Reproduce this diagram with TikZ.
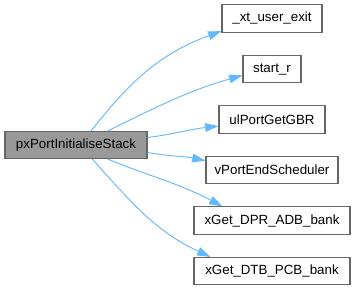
\documentclass[tikz,border=0pt]{standalone}
\usepackage{fontspec}
\setmainfont{Liberation Sans}
\usepackage{xcolor}
\usepackage{tikz}
\usetikzlibrary{arrows.meta, positioning}

\definecolor{edgeblue}{HTML}{63B8FF}
\definecolor{boxline}{HTML}{666666}
\definecolor{boxfill}{HTML}{999999}

\begin{document}
\begin{tikzpicture}[x=0.75pt, y=-0.75pt, node distance=37.9pt, font=\fontsize{10pt}{12pt}\selectfont]
    % Define styles
    \tikzstyle{func} = [rectangle, minimum height=20.5pt, inner xsep=5pt, text centered, draw=boxline, fill=white, line width=0.8pt]
    \tikzstyle{caller} = [func, fill=boxfill]
    \tikzstyle{call} = [draw=edgeblue, line width=0.7pt, -{Triangle[length=10pt, width=6.5pt, fill=edgeblue]}]

    \useasboundingbox (0,0) rectangle (355,291);

    % Nodes
    \node (init) [caller, minimum width=106.5pt] at (76,145) {pxPortInitialiseStack};
    \node (xtexit) [func, minimum width=75pt] at (272,18.5) {\_xt\_user\_exit};
    \node (startr) [func, minimum width=43.5pt, below of=xtexit] {start\_r};
    \node (getgbr) [func, minimum width=79.5pt, below of=startr] {ulPortGetGBR};
    \node (endsched) [func, minimum width=99pt, below of=getgbr] {vPortEndScheduler};
    \node (dprbank) [func, minimum width=117pt, below of=endsched] {xGet\_DPR\_ADB\_bank};
    \node (dtbbank) [func, minimum width=117pt, below of=dprbank] {xGet\_DTB\_PCB\_bank};

    % Arrows
    \draw [call] (init.43) to[out=52, in=200] (xtexit.194);
    \draw [call] (init.24) to[out=26, in=196] (startr.192);
    \draw [call] (init.6) to[out=7, in=186] (getgbr.187);
    \draw [call] (init.-6) to[out=-10, in=168] (endsched.172);
    \draw [call] (init.-24) to[out=-22, in=152] (dprbank.164);
    \draw [call] (init.-41) to[out=-48, in=155] (dtbbank.167);
\end{tikzpicture}
\end{document}
